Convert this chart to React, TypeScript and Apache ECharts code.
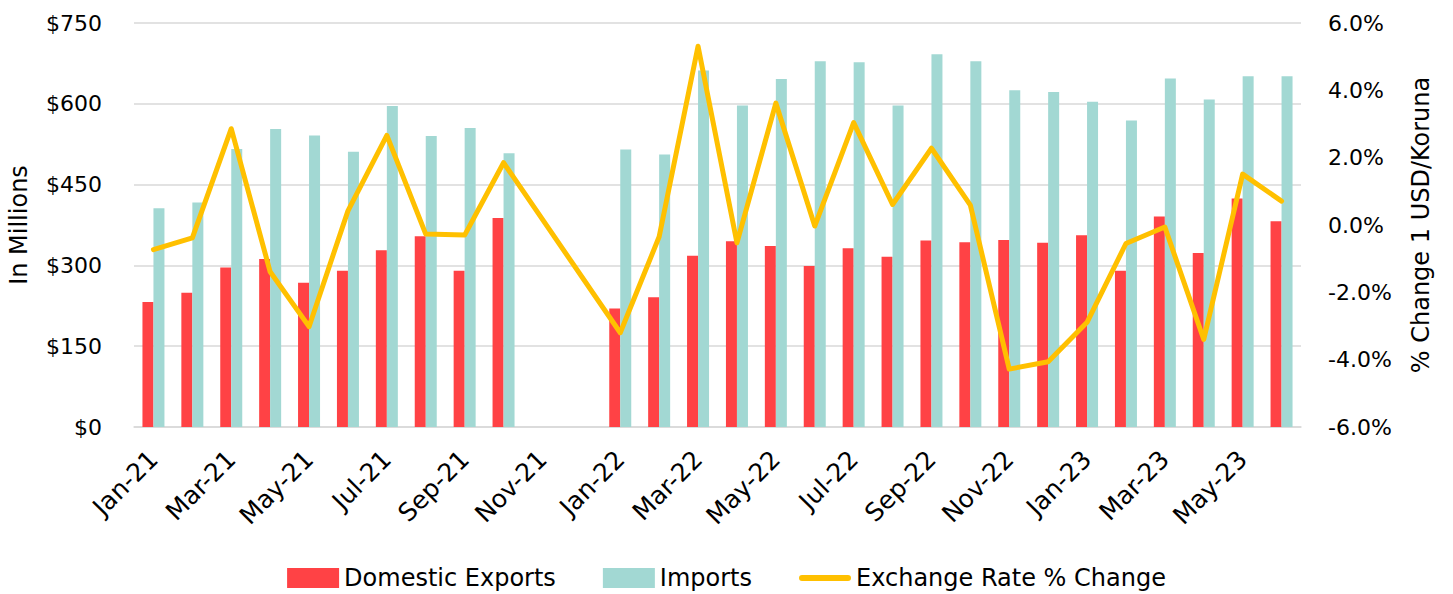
import React, { useEffect, useRef } from "react";
import * as echarts from "echarts";

const months = [
  "Jan-21", "Feb-21", "Mar-21", "Apr-21", "May-21", "Jun-21", "Jul-21", "Aug-21", "Sep-21", "Oct-21", "Nov-21", "Dec-21",
  "Jan-22", "Feb-22", "Mar-22", "Apr-22", "May-22", "Jun-22", "Jul-22", "Aug-22", "Sep-22", "Oct-22", "Nov-22", "Dec-22",
  "Jan-23", "Feb-23", "Mar-23", "Apr-23", "May-23", "Jun-23",
];

const domesticExports = [
  232, 249, 296, 312, 268, 290, 328, 354, 290, 388, null, null,
  220, 241, 318, 345, 336, 299, 332, 316, 346, 343, 347, 342,
  356, 290, 391, 323, 424, 382,
];

const imports = [
  406, 417, 516, 553, 541, 511, 596, 540, 555, 508, null, null,
  515, 506, 662, 597, 646, 679, 677, 597, 692, 679, 625, 622,
  604, 569, 647, 608, 651, 651,
];

const exchangeRateChange = [
  -0.73, -0.38, 2.86, -1.39, -3.02, 0.42, 2.66, -0.27, -0.3, 1.85, null, null,
  -3.2, -0.35, 5.31, -0.53, 3.62, -0.03, 3.04, 0.61, 2.28, 0.59, -4.28, -4.06,
  -2.89, -0.55, -0.06, -3.4, 1.51, 0.71,
];

const FONT = "DejaVu Sans";
const LINE_ICON = "path://M0,0 M3,7 L49,7 A3,3 0 0 1 49,13 L3,13 A3,3 0 0 1 3,7 Z M52,20";

export default function App() {
  const ref = useRef<HTMLDivElement>(null);

  useEffect(() => {
    document.body.style.margin = "0";
    const chart = echarts.init(ref.current!, null, { renderer: "svg" });
    chart.setOption({
      animation: false,
      textStyle: { fontFamily: FONT, color: "#000" },
      grid: { left: 134, right: 152, top: 23, bottom: 167, containLabel: false, outerBoundsMode: "none" },
      legend: {
        top: 561,
        left: "center",
        itemWidth: 52,
        itemHeight: 20,
        itemGap: 47,
        textStyle: { fontFamily: FONT, fontSize: 24, color: "#000" },
        data: [
          { name: "Domestic Exports", icon: "rect" },
          { name: "Imports", icon: "rect" },
          { name: "Exchange Rate % Change", icon: LINE_ICON },
        ],
      },
      xAxis: {
        type: "category",
        data: months,
        axisLine: { lineStyle: { color: "#D9D9D9", width: 1.5 } },
        axisTick: { interval: 1, length: 8, lineStyle: { color: "#D9D9D9", width: 1.5 } },
        axisLabel: {
          interval: 1,
          rotate: 45,
          fontSize: 25,
          fontFamily: FONT,
          color: "#000",
          margin: 28,
        },
      },
      yAxis: [
        {
          type: "value",
          min: 0,
          max: 750,
          interval: 150,
          name: "In Millions",
          nameLocation: "middle",
          nameRotate: 90,
          nameGap: 103,
          nameTextStyle: { fontSize: 24, fontFamily: FONT, color: "#000" },
          axisLine: { show: false },
          axisTick: { show: false },
          axisLabel: {
            fontSize: 22,
            fontFamily: FONT,
            color: "#000",
            margin: 32,
            formatter: (v: number) => "$" + v,
          },
          splitLine: { lineStyle: { color: "#D9D9D9", width: 1.5 } },
        },
        {
          type: "value",
          min: -6,
          max: 6,
          interval: 2,
          position: "right",
          name: "% Change 1 USD/Koruna",
          nameLocation: "middle",
          nameRotate: 90,
          nameGap: 108,
          nameTextStyle: { fontSize: 24, fontFamily: FONT, color: "#000" },
          axisLine: { show: false },
          axisTick: { show: false },
          axisLabel: {
            fontSize: 22,
            fontFamily: FONT,
            color: "#000",
            margin: 27,
            formatter: (v: number) => v.toFixed(1) + "%",
          },
          splitLine: { show: false },
        },
      ],
      series: [
        {
          name: "Domestic Exports",
          type: "bar",
          data: domesticExports,
          barWidth: 11,
          barGap: "0%",
          itemStyle: { color: "#FF4245" },
        },
        {
          name: "Imports",
          type: "bar",
          data: imports,
          barWidth: 11,
          barGap: "0%",
          itemStyle: { color: "#A2D8D3" },
        },
        {
          name: "Exchange Rate % Change",
          type: "line",
          yAxisIndex: 1,
          data: exchangeRateChange,
          connectNulls: true,
          symbol: "none",
          lineStyle: { color: "#FFC000", width: 5, cap: "round", join: "round" },
          itemStyle: { color: "#FFC000" },
          z: 5,
        },
      ],
    });
    return () => chart.dispose();
  }, []);

  return <div ref={ref} style={{ width: 1453, height: 594 }} />;
}
